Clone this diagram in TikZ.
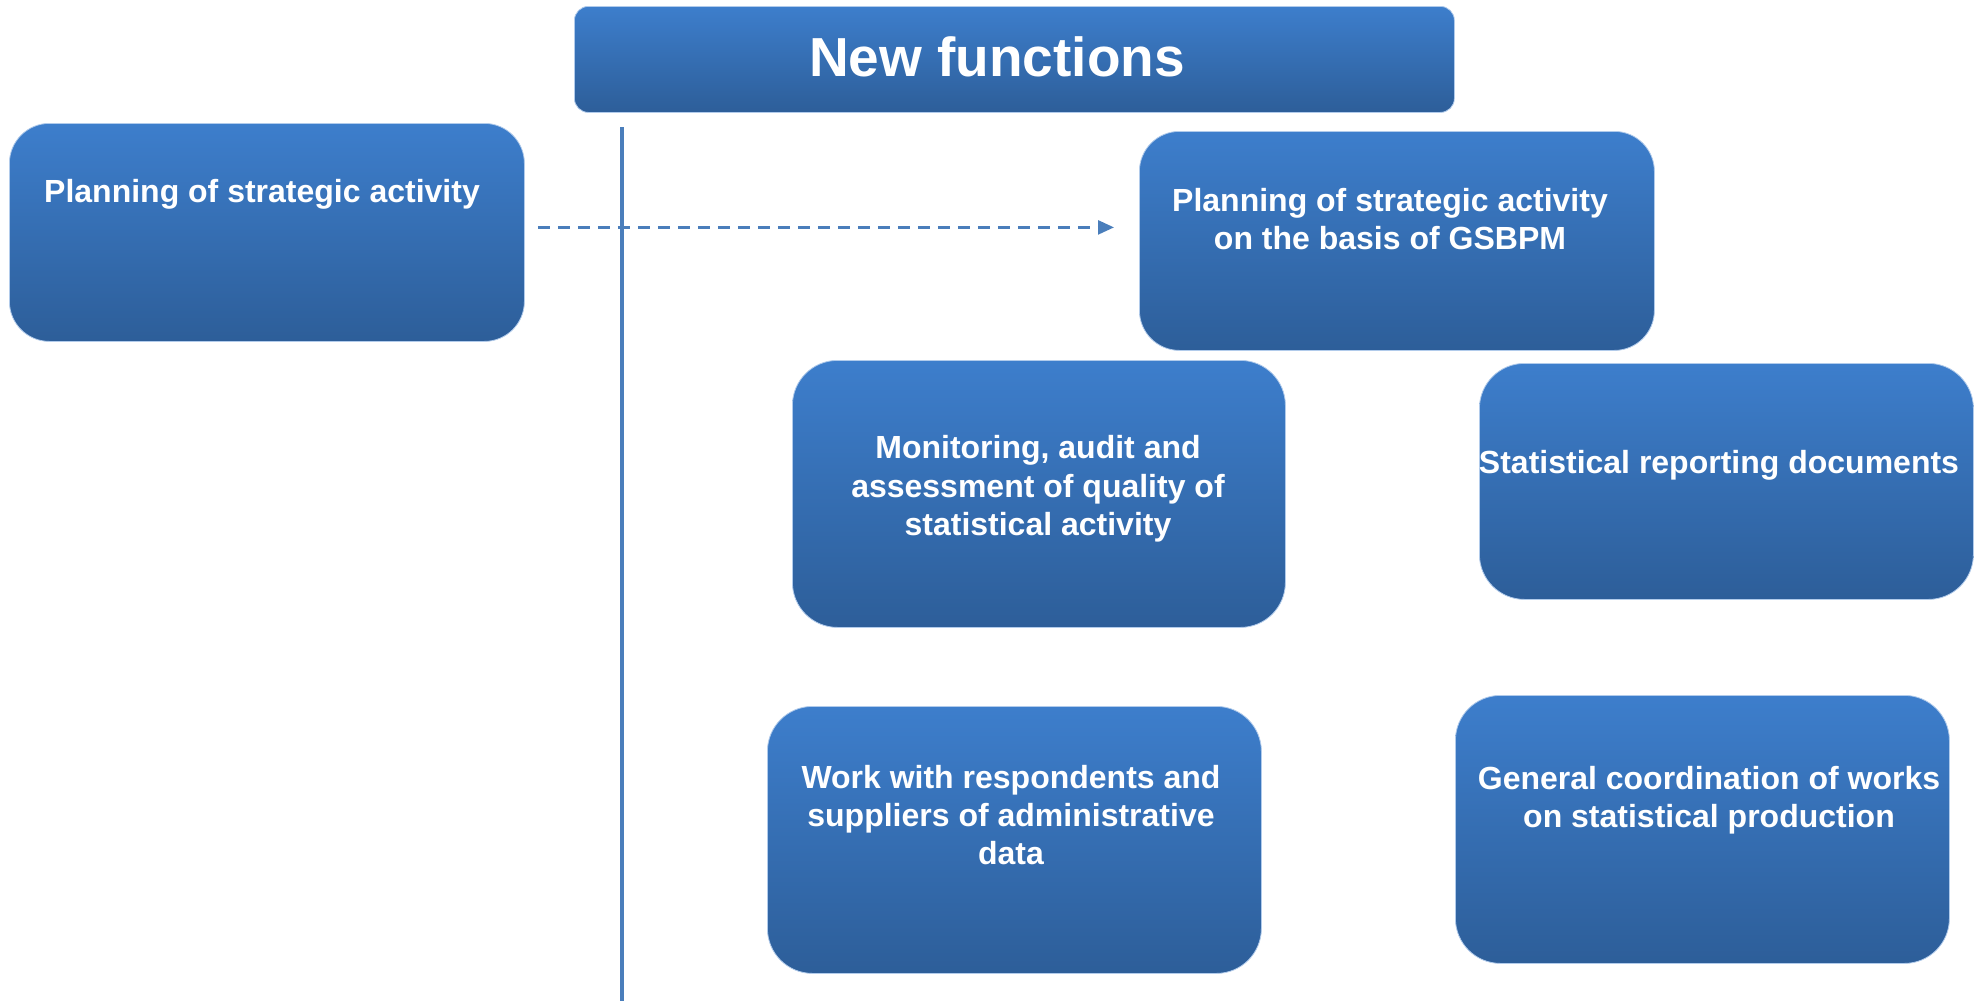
\documentclass[tikz,border=0pt]{standalone}
\usepackage{fontspec}
\setmainfont{Liberation Sans}
\usetikzlibrary{arrows.meta,calc}
\definecolor{topblue}{RGB}{61,126,204}
\definecolor{botblue}{RGB}{45,94,153}
\definecolor{lineblue}{RGB}{74,126,187}
\tikzset{
  fbox/.style={rectangle, rounded corners=#1, top color=topblue, bottom color=botblue,
    draw=topblue!40!white, line width=0.8pt, inner sep=0pt, anchor=north west},
  ftext/.style={text=white, font=\bfseries\fontsize{32}{38.4}\selectfont, align=center, inner sep=0pt},
  ttext/.style={text=white, font=\bfseries\fontsize{55}{60}\selectfont, inner sep=0pt},
}
\begin{document}
\begin{tikzpicture}[x=1pt,y=-1pt]
\useasboundingbox (0,0) rectangle (1974,1001);
% boxes
\node[fbox=14pt, minimum width=880pt, minimum height=106pt] (title) at (574,6) {};
\node[fbox=40pt, minimum width=515pt, minimum height=218pt] (left) at (9,123) {};
\node[fbox=40pt, minimum width=515pt, minimum height=219pt] (gsbpm) at (1139,131) {};
\node[fbox=45pt, minimum width=493pt, minimum height=267pt] (monit) at (792,360) {};
\node[fbox=45pt, minimum width=494pt, minimum height=236pt] (report) at (1479,363) {};
\node[fbox=45pt, minimum width=494pt, minimum height=267pt] (work) at (767,706) {};
\node[fbox=45pt, minimum width=494pt, minimum height=268pt] (coord) at (1455,695) {};
% texts
\node[ttext] (titleT) at (997,57) {New functions};
\node[ftext] (leftT) at (262,194) {Planning of strategic activity};
\node[ftext] (gsbpmT) at (1390,219) {Planning of strategic activity\\on the basis of GSBPM};
\node[ftext] (monitT) at (1038,489) {Monitoring, audit and\\assessment of quality of\\statistical activity};
\node[ftext] (reportT) at (1719,465) {Statistical reporting documents};
\node[ftext] (workT) at (1011,815) {Work with respondents and\\suppliers of administrative\\data};
\node[ftext] (coordT) at (1709,800) {General coordination of works\\on statistical production};
% vertical line
\coordinate (vtop) at (622,127);
\coordinate (vbot) at (622,1001);
\draw[lineblue, line width=4.5pt] (vtop) -- (vbot);
% dashed arrow
\coordinate (ds) at ([xshift=13pt,yshift=5pt]left.east);
\draw[lineblue, line width=2.5pt, dash pattern=on 12pt off 8pt,
  -{Triangle[length=16pt,width=14pt]}] (ds) -- ([xshift=-25pt]ds -| gsbpm.west);
\end{tikzpicture}
\end{document}
